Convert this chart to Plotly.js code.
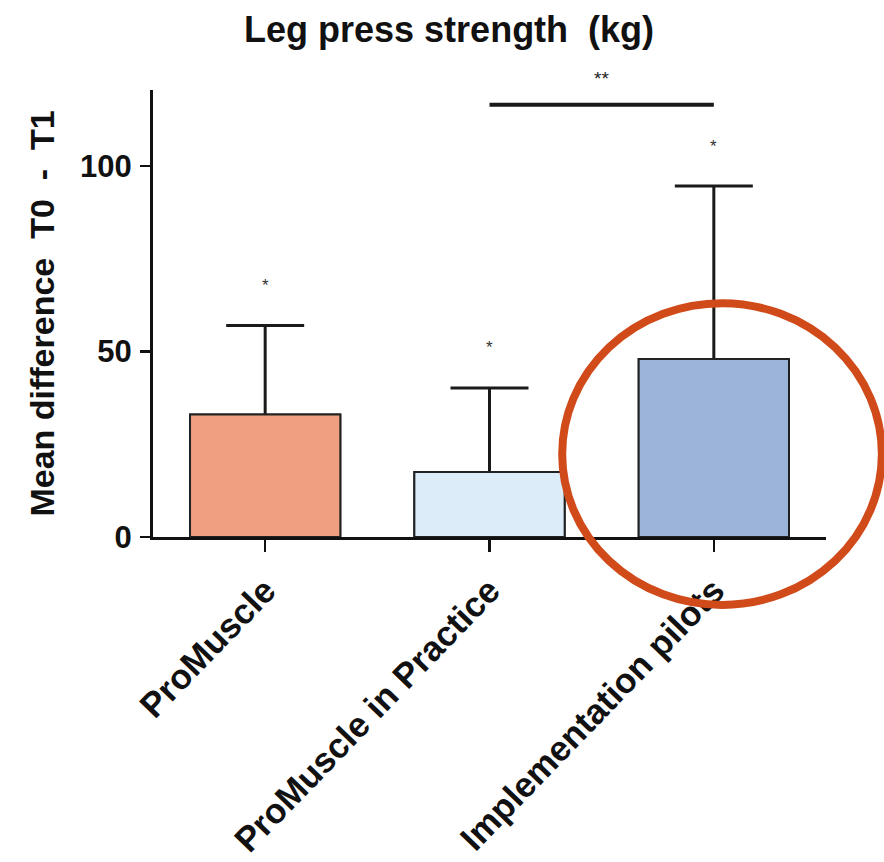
<!DOCTYPE html>
<html>
<head>
<meta charset="utf-8">
<script src="https://cdn.plot.ly/plotly-3.0.1.min.js"></script>
<style>html,body{margin:0;padding:0;background:#fff;}#chart{width:884px;height:862px;}</style>
</head>
<body>
<div id="chart"></div>
<script>
const categories = ['ProMuscle', 'ProMuscle in Practice', 'Implementation pilots'];
const meanDiff = [33, 17.5, 48];
const sdUpper = [24, 22.7, 46.6];
const barColors = ['#f09f80', '#dcecf8', '#9bb4d8'];
const starLabels = ['*', '*', '*'];
const sigPair = [1, 2];
const sigLevel = 116.5;
const sigLabel = '**';
const yTicks = [0, 50, 100];

const FONT = 'Liberation Sans, Arial, sans-serif';

// error bars (symmetric); their lower half is hidden by the bars drawn on top
const errTrace = {
  type: 'bar',
  x: categories,
  y: meanDiff,
  width: 0.67,
  marker: { color: barColors, line: { color: '#222', width: 2 } },
  error_y: {
    type: 'data', array: sdUpper,
    color: '#1a1a1a', thickness: 3, width: 39
  },
  hoverinfo: 'none'
};
const barTrace = {
  type: 'bar',
  x: categories,
  y: meanDiff,
  width: 0.67,
  marker: { color: barColors, line: { color: '#222', width: 2 } },
  hoverinfo: 'none'
};

const annotations = categories.map((c, i) => ({
  x: c, y: meanDiff[i] + sdUpper[i], xref: 'x', yref: 'y',
  text: starLabels[i], showarrow: false, yanchor: 'middle', yshift: 40,
  font: { family: FONT, size: 17, color: '#333' }
}));
annotations.push({
  x: (sigPair[0] + sigPair[1]) / 2, y: sigLevel, xref: 'x', yref: 'y',
  text: sigLabel, showarrow: false, yanchor: 'middle', yshift: 26,
  font: { family: FONT, size: 19, color: '#222' }
});

const layout = {
  width: 884, height: 862,
  paper_bgcolor: '#fff', plot_bgcolor: '#fff',
  margin: { l: 153, r: 58, t: 90, b: 325 },
  showlegend: false,
  barmode: 'overlay',
  title: {
    text: 'Leg press strength\u00a0\u00a0(kg)',
    x: 0.508, xanchor: 'center', y: 0.966, yanchor: 'middle',
    font: { family: FONT, size: 36, color: '#111', weight: 700 }
  },
  xaxis: {
    range: [-0.5, 2.5],
    showline: true, linecolor: '#111', linewidth: 3,
    ticks: 'outside', ticklen: 12, tickwidth: 2.5, tickcolor: '#111',
    tickangle: -46,
    ticklabelstandoff: 4,
    tickfont: { family: FONT, size: 35, color: '#111', weight: 700 },
    showgrid: false, zeroline: false, fixedrange: true
  },
  yaxis: {
    range: [0, 120.5],
    tickvals: yTicks,
    showline: true, linecolor: '#111', linewidth: 3,
    ticks: 'outside', ticklen: 10, tickwidth: 2.5, tickcolor: '#111',
    ticklabelstandoff: 2,
    tickfont: { family: FONT, size: 31, color: '#111', weight: 700 },
    showgrid: false, zeroline: false, fixedrange: true,
    title: {
      text: 'Mean difference\u00a0\u00a0T0\u00a0\u00a0-\u00a0\u00a0T1',
      standoff: 16,
      font: { family: FONT, size: 34, color: '#111', weight: 700 }
    }
  },
  shapes: [
    {
      type: 'line', xref: 'x', yref: 'y',
      x0: sigPair[0], x1: sigPair[1], y0: sigLevel, y1: sigLevel,
      line: { color: '#1a1a1a', width: 4 }
    },
    {
      type: 'circle', xref: 'paper', yref: 'paper',
      x0: 0.608, x1: 1.083, y0: -0.152, y1: 0.523,
      line: { color: '#d04a1a', width: 8 }
    }
  ],
  annotations: annotations
};

Plotly.newPlot('chart', [errTrace, barTrace], layout, { displayModeBar: false, staticPlot: true });
</script>
</body>
</html>
